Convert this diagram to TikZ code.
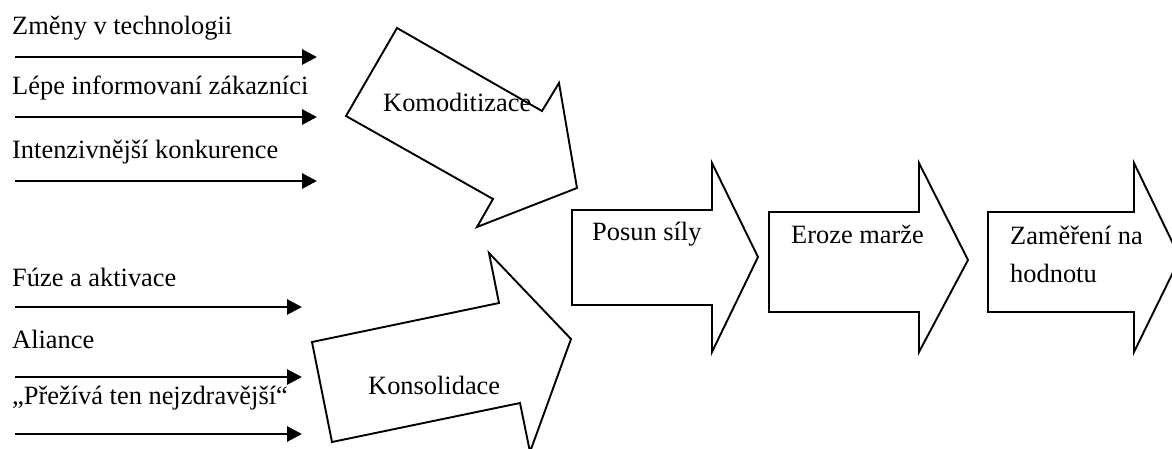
\documentclass[tikz,border=0pt]{standalone}
\usepackage{fontspec}
\setmainfont{Liberation Serif}
\usetikzlibrary{arrows.meta}
\begin{document}
\begin{tikzpicture}[x=1pt,y=-1pt,
  lbl/.style={anchor=base west,inner sep=0pt,font=\fontsize{26.4}{30}\selectfont},
  inarrow/.style={line width=2.9pt,-{Triangle[length=15pt,width=15pt]}},
  blockarrow/.style={line width=1.9pt,line join=miter}]
\clip (0,0) rectangle (1172,448);
% input labels
\node[lbl] (t1) at (12,34) {Změny v technologii};
\node[lbl] (t2) at (12,94) {Lépe informovaní zákazníci};
\node[lbl] (t3) at (12,158) {Intenzivnější konkurence};
\node[lbl] (t4) at (12,286) {Fúze a aktivace};
\node[lbl] (t5) at (12,348) {Aliance};
\node[lbl] (t6) at (12,404) {„Přežívá ten nejzdravější“};
% input arrows
\coordinate (a1s) at (15,57);  \coordinate (a1e) at (317,57);
\coordinate (a2s) at (15,117); \coordinate (a2e) at (317,117);
\coordinate (a3s) at (15,181); \coordinate (a3e) at (317,181);
\coordinate (a4s) at (15,307); \coordinate (a4e) at (302,307);
\coordinate (a5s) at (15,377); \coordinate (a5e) at (302,377);
\coordinate (a6s) at (15,434); \coordinate (a6e) at (302,434);
\draw[inarrow] (a1s) -- (a1e);
\draw[inarrow] (a2s) -- (a2e);
\draw[inarrow] (a3s) -- (a3e);
\draw[inarrow] (a4s) -- (a4e);
\draw[inarrow] (a5s) -- (a5e);
\draw[inarrow] (a6s) -- (a6e);
% Komoditizace
\draw[blockarrow] (397,28) -- (542,111) -- (559,83) -- (577,188) -- (477,227) -- (493,199) -- (346,116) -- cycle;
\node[lbl] (kom) at (383,111) {Komoditizace};
% Konsolidace
\draw[blockarrow] (312,342) -- (499,303) -- (489,253) -- (571,339) -- (530,452) -- (520,403) -- (332,442) -- cycle;
\node[lbl] (kon) at (368,394) {Konsolidace};
% Posun sily
\draw[blockarrow] (572,210) -- (712,210) -- (712,163) -- (758,257) -- (712,352) -- (712,305) -- (572,305) -- cycle;
\node[lbl] (pos) at (592,240) {Posun síly};
% Eroze marze
\draw[blockarrow] (769,212) -- (919,212) -- (919,163) -- (968,260) -- (919,352) -- (919,312) -- (769,312) -- cycle;
\node[lbl] (ero) at (791,243) {Eroze marže};
% Zamereni na hodnotu
\draw[blockarrow] (988,212) -- (1134,212) -- (1134,163) -- (1180,258) -- (1134,352) -- (1134,312) -- (988,312) -- cycle;
\node[lbl] (zam1) at (1010,244) {Zaměření na};
\node[lbl] (zam2) at (1010,282) {hodnotu};
\end{tikzpicture}
\end{document}
